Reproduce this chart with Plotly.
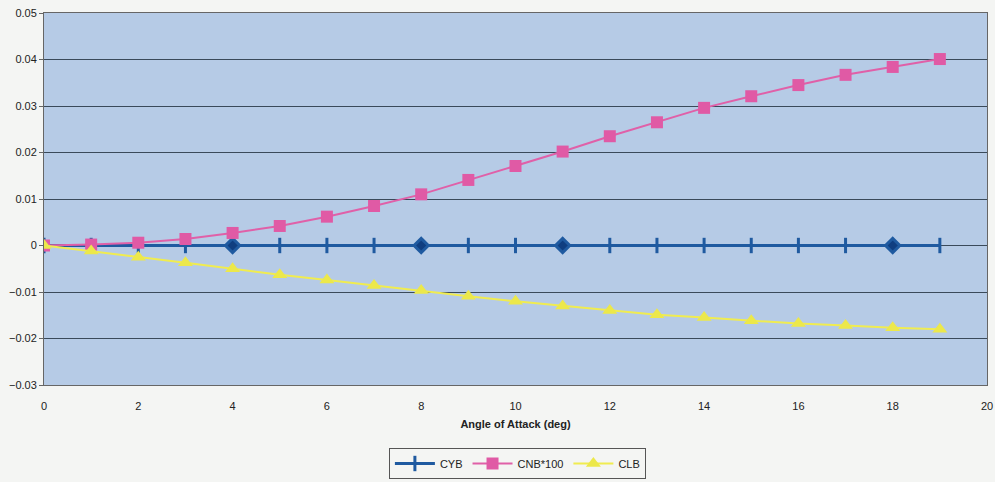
import plotly.graph_objects as go

alpha = list(range(0, 20))
cyb = [0.0] * 20
cnb100 = [0.0, 0.0002, 0.0006, 0.0014, 0.0027, 0.0042, 0.0062, 0.0085, 0.011, 0.0141,
          0.0171, 0.0202, 0.0235, 0.0265, 0.0296, 0.0321, 0.0345, 0.0367, 0.0384, 0.0401]
clb = [0.0, -0.0012, -0.0025, -0.0037, -0.005, -0.0063, -0.0074, -0.0086, -0.0097, -0.0109,
       -0.012, -0.013, -0.014, -0.0149, -0.0155, -0.0162, -0.0168, -0.0172, -0.0177, -0.018]

cyb_symbols = ["line-ns"] * 20
for i in (4, 8, 11, 18):
    cyb_symbols[i] = "diamond"

fig = go.Figure()
fig.add_trace(go.Scatter(x=alpha, y=cyb, name="CYB", mode="lines+markers",
                         line=dict(color="#1f5aa0", width=3),
                         marker=dict(symbol=cyb_symbols, size=11, color="#103e80",
                                     line=dict(color="#1f5aa0", width=3))))
fig.add_trace(go.Scatter(x=alpha, y=cnb100, name="CNB*100", mode="lines+markers",
                         line=dict(color="#e060a8", width=2),
                         marker=dict(symbol="square", size=12, color="#e05aa5")))
fig.add_trace(go.Scatter(x=alpha, y=clb, name="CLB", mode="lines+markers",
                         line=dict(color="#f0ec50", width=2),
                         marker=dict(symbol="triangle-up", size=13, color="#ece84a")))

fig.update_layout(
    width=995, height=482,
    paper_bgcolor="#f4f5f3",
    plot_bgcolor="#b6cbe6",
    margin=dict(l=44, r=8, t=13, b=97, autoexpand=False),
    font=dict(family="Liberation Sans, Arial, sans-serif", size=11, color="#222"),
    legend=dict(orientation="h", x=0.52, xanchor="center", xref="container",
                y=1 - 454 / 482, yanchor="top", yref="container",
                bordercolor="#555", borderwidth=1, bgcolor="#f4f5f3",
                font=dict(size=11), itemwidth=40,
                tracegroupgap=0),
    xaxis=dict(range=[0, 20], dtick=2, showgrid=False, zeroline=False,
               showline=True, linecolor="#666", mirror=True, ticks="",
               ticklabelstandoff=11,
               title=dict(text="<b>Angle of Attack (deg)</b>", font=dict(size=11), standoff=9),
               tickfont=dict(size=11)),
    yaxis=dict(range=[-0.03, 0.05], dtick=0.01, showgrid=True, gridcolor="#3a4a5a", gridwidth=1,
               zeroline=False, showline=True, linecolor="#666", mirror=True,
               ticks="outside", ticklen=4, tickcolor="#666",
               tickformat="~g", tickfont=dict(size=11)),
)
fig.update_layout(legend=dict(y=1 - 448 / 482))

fig.write_html("out.html")
